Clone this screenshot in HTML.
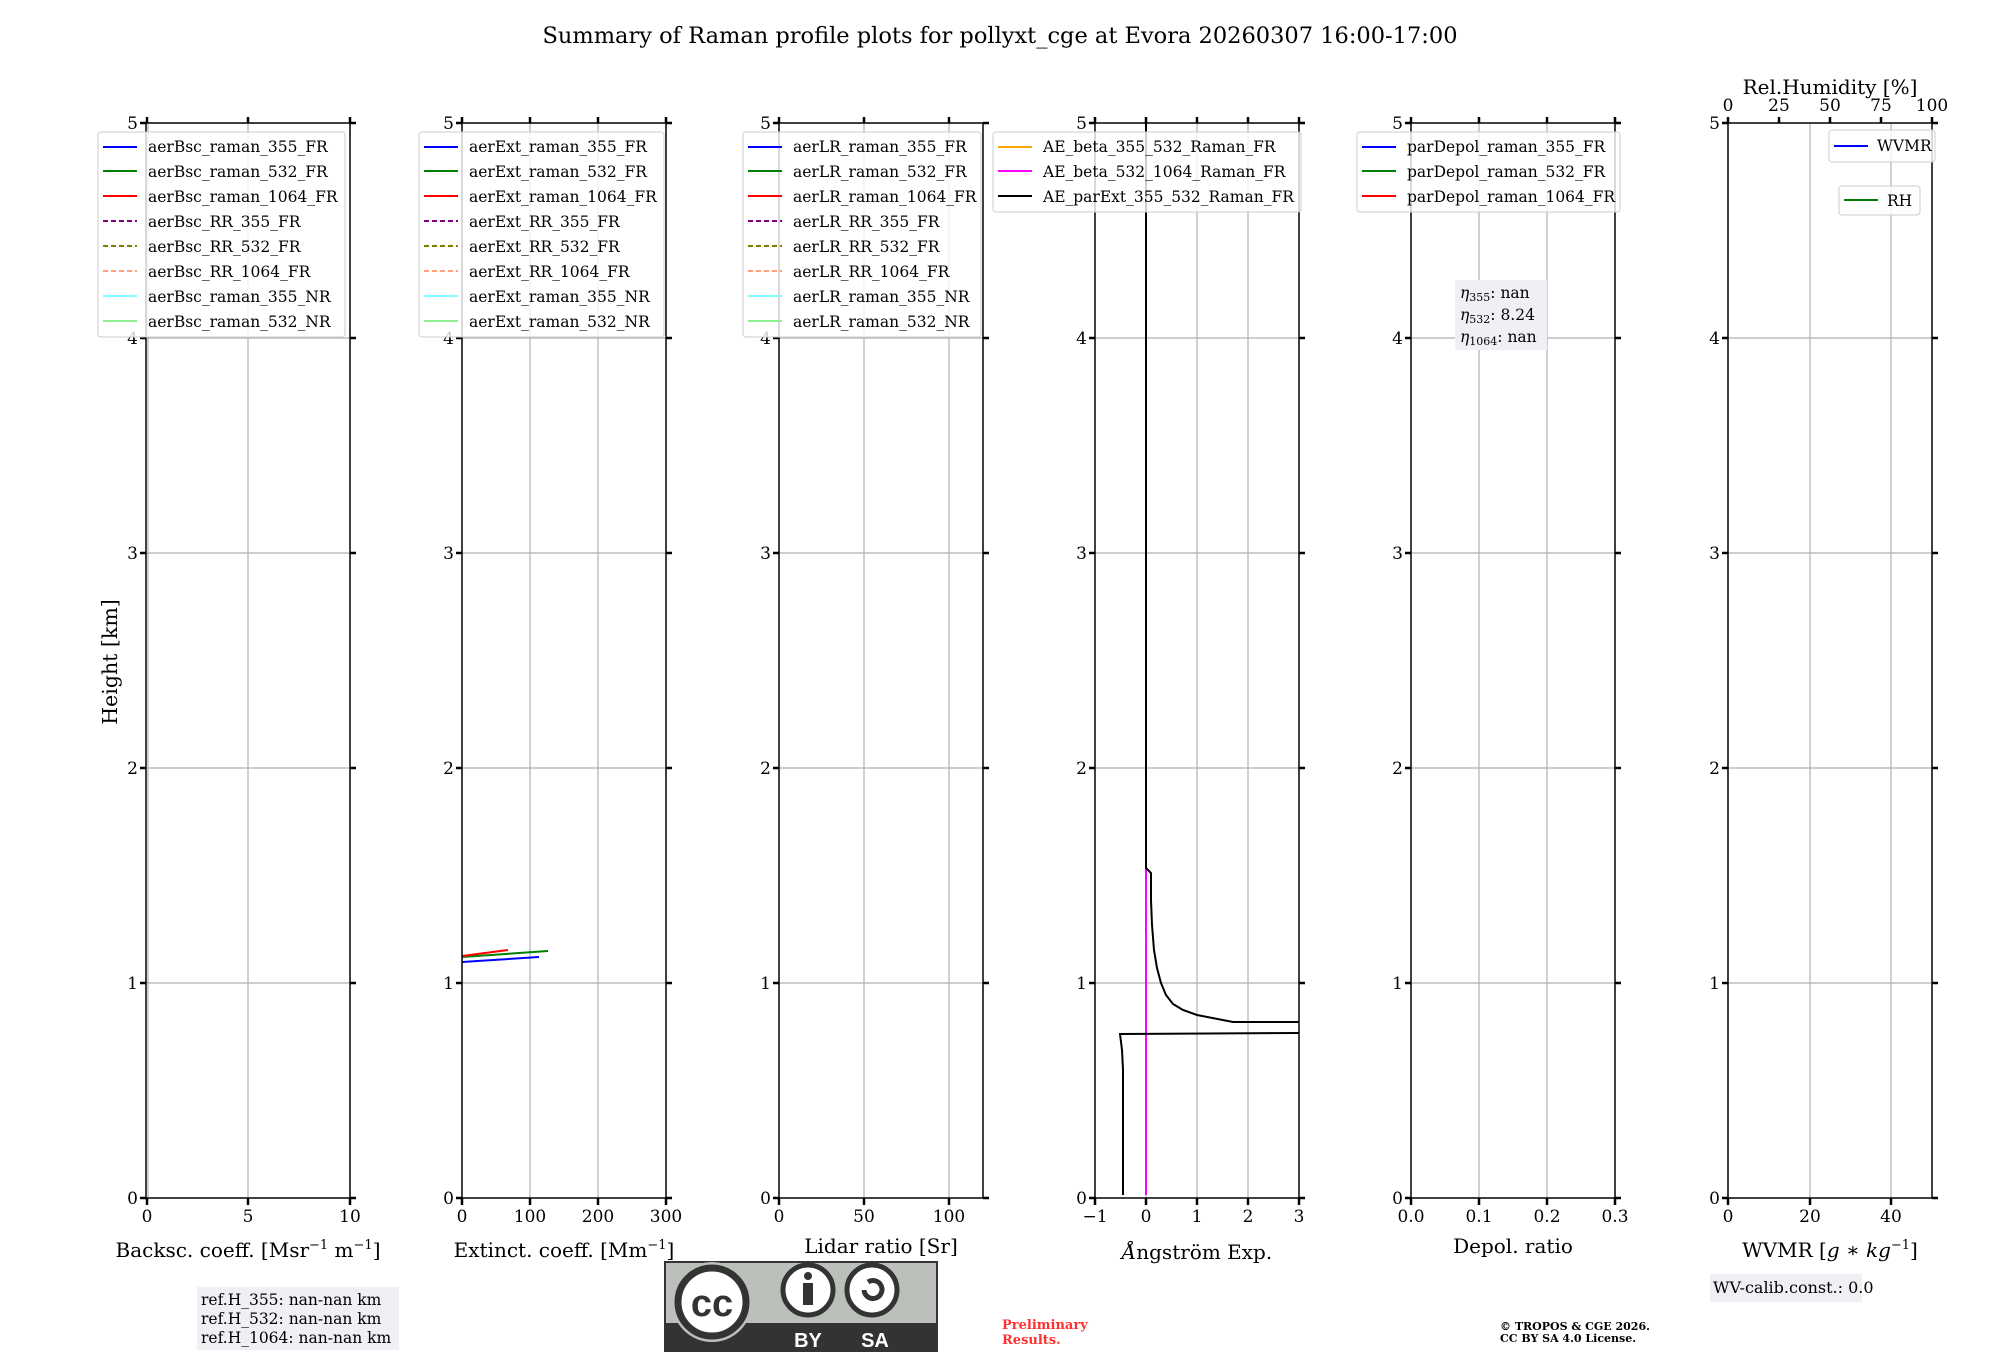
<!DOCTYPE html>
<html><head><meta charset="utf-8"><style>
html,body{margin:0;padding:0;background:#fff;}
svg{display:block;}
text{font-family:"DejaVu Serif","Liberation Serif",serif;fill:#000;}
.t{font-size:17px;}
.l{font-size:20px;}
.lg{font-size:15.5px;}
</style></head><body>
<svg width="2000" height="1360" viewBox="0 0 2000 1360" xmlns="http://www.w3.org/2000/svg">
<rect width="2000" height="1360" fill="#fff"/>
<text x="1000" y="43" font-size="22.5" text-anchor="middle">Summary of Raman profile plots for pollyxt_cge at Evora 20260307 16:00-17:00</text>
<text transform="translate(117,662) rotate(-90)" font-size="20.5" text-anchor="middle">Height [km]</text>

<g stroke="#b0b0b0" stroke-width="1.2">
<path d="M146 983H350M146 768H350M146 553H350M146 338H350"/>
<path d="M462 983H666M462 768H666M462 553H666M462 338H666"/>
<path d="M779 983H983M779 768H983M779 553H983M779 338H983"/>
<path d="M1095 983H1299M1095 768H1299M1095 553H1299M1095 338H1299"/>
<path d="M1411 983H1615M1411 768H1615M1411 553H1615M1411 338H1615"/>
<path d="M1728 983H1932M1728 768H1932M1728 553H1932M1728 338H1932"/>
<path d="M148 123V1198M248 123V1198"/>
<path d="M530 123V1198M598 123V1198"/>
<path d="M864 123V1198M949 123V1198"/>
<path d="M1146 123V1198M1197 123V1198M1248 123V1198"/>
<path d="M1479 123V1198M1547 123V1198"/>
<path d="M1810 123V1198M1891 123V1198"/>
</g>

<g stroke-width="2" fill="none">
<path d="M462 962L539 957" stroke="#0000ff"/>
<path d="M462 957L548 951" stroke="#008000"/>
<path d="M462 956L508 950" stroke="#ff0000"/>
</g>
<path d="M1146 1195V868" stroke="#ff00ff" stroke-width="2"/>
<g stroke="#000" stroke-width="2" fill="none">
<path d="M1123 1195L1123 1070L1122 1050L1120 1034L1299 1033"/>
<path d="M1146 123V868L1151 873L1151 900L1152 925L1154 950L1157 968L1161 983L1166 995L1173 1004L1183 1010L1197 1015L1233 1022L1299 1022"/>
</g>

<g fill="none" stroke="#000">
<g stroke-width="1.5">
<rect x="146" y="123" width="204" height="1075"/>
<rect x="462" y="123" width="204" height="1075"/>
<rect x="779" y="123" width="204" height="1075"/>
<rect x="1095" y="123" width="204" height="1075"/>
<rect x="1411" y="123" width="204" height="1075"/>
<rect x="1728" y="123" width="204" height="1075"/>
</g>
<g stroke-width="2.5">
<path d="M140 1198H146M140 983H146M140 768H146M140 553H146M140 338H146M140 123H146M350 1198H356M350 983H356M350 768H356M350 553H356M350 338H356M350 123H356"/>
<path d="M456 1198H462M456 983H462M456 768H462M456 553H462M456 338H462M456 123H462M666 1198H672M666 983H672M666 768H672M666 553H672M666 338H672M666 123H672"/>
<path d="M773 1198H779M773 983H779M773 768H779M773 553H779M773 338H779M773 123H779M983 1198H989M983 983H989M983 768H989M983 553H989M983 338H989M983 123H989"/>
<path d="M1089 1198H1095M1089 983H1095M1089 768H1095M1089 553H1095M1089 338H1095M1089 123H1095M1299 1198H1305M1299 983H1305M1299 768H1305M1299 553H1305M1299 338H1305M1299 123H1305"/>
<path d="M1405 1198H1411M1405 983H1411M1405 768H1411M1405 553H1411M1405 338H1411M1405 123H1411M1615 1198H1621M1615 983H1621M1615 768H1621M1615 553H1621M1615 338H1621M1615 123H1621"/>
<path d="M1722 1198H1728M1722 983H1728M1722 768H1728M1722 553H1728M1722 338H1728M1722 123H1728M1932 1198H1938M1932 983H1938M1932 768H1938M1932 553H1938M1932 338H1938M1932 123H1938"/>
<path d="M147 1198V1205M248 1198V1205M350 1198V1205M147 117V123M248 117V123M350 117V123"/>
<path d="M462 1198V1205M530 1198V1205M598 1198V1205M666 1198V1205M462 117V123M530 117V123M598 117V123M666 117V123"/>
<path d="M779 1198V1205M864 1198V1205M949 1198V1205M779 117V123M864 117V123M949 117V123"/>
<path d="M1095 1198V1205M1146 1198V1205M1197 1198V1205M1248 1198V1205M1299 1198V1205M1095 117V123M1146 117V123M1197 117V123M1248 117V123M1299 117V123"/>
<path d="M1411 1198V1205M1479 1198V1205M1547 1198V1205M1615 1198V1205M1411 117V123M1479 117V123M1547 117V123M1615 117V123"/>
<path d="M1728 1198V1205M1810 1198V1205M1891 1198V1205M1728 117V123M1779 117V123M1830 117V123M1881 117V123M1932 117V123"/>
</g>
</g>

<g class="t" text-anchor="end">
<text x="138" y="1204">0</text><text x="138" y="989">1</text><text x="138" y="774">2</text><text x="138" y="559">3</text><text x="138" y="344">4</text><text x="138" y="129">5</text>
<text x="454" y="1204">0</text><text x="454" y="989">1</text><text x="454" y="774">2</text><text x="454" y="559">3</text><text x="454" y="344">4</text><text x="454" y="129">5</text>
<text x="771" y="1204">0</text><text x="771" y="989">1</text><text x="771" y="774">2</text><text x="771" y="559">3</text><text x="771" y="344">4</text><text x="771" y="129">5</text>
<text x="1087" y="1204">0</text><text x="1087" y="989">1</text><text x="1087" y="774">2</text><text x="1087" y="559">3</text><text x="1087" y="344">4</text><text x="1087" y="129">5</text>
<text x="1403" y="1204">0</text><text x="1403" y="989">1</text><text x="1403" y="774">2</text><text x="1403" y="559">3</text><text x="1403" y="344">4</text><text x="1403" y="129">5</text>
<text x="1720" y="1204">0</text><text x="1720" y="989">1</text><text x="1720" y="774">2</text><text x="1720" y="559">3</text><text x="1720" y="344">4</text><text x="1720" y="129">5</text>
</g>
<g class="t" text-anchor="middle">
<text x="147" y="1222">0</text><text x="248" y="1222">5</text><text x="350" y="1222">10</text>
<text x="462" y="1222">0</text><text x="530" y="1222">100</text><text x="598" y="1222">200</text><text x="666" y="1222">300</text>
<text x="779" y="1222">0</text><text x="864" y="1222">50</text><text x="949" y="1222">100</text>
<text x="1095" y="1222">−1</text><text x="1146" y="1222">0</text><text x="1197" y="1222">1</text><text x="1248" y="1222">2</text><text x="1299" y="1222">3</text>
<text x="1411" y="1222">0.0</text><text x="1479" y="1222">0.1</text><text x="1547" y="1222">0.2</text><text x="1615" y="1222">0.3</text>
<text x="1728" y="1222">0</text><text x="1810" y="1222">20</text><text x="1891" y="1222">40</text>
<text x="1728" y="111">0</text><text x="1779" y="111">25</text><text x="1830" y="111">50</text><text x="1881" y="111">75</text><text x="1932" y="111">100</text>
</g>
<g class="l" text-anchor="middle">
<text x="248" y="1257">Backsc. coeff. [Msr<tspan dy="-8" font-size="13">−1</tspan><tspan dy="8"> m</tspan><tspan dy="-8" font-size="13">−1</tspan><tspan dy="8">]</tspan></text>
<text x="564" y="1257">Extinct. coeff. [Mm<tspan dy="-8" font-size="13">−1</tspan><tspan dy="8">]</tspan></text>
<text x="881" y="1253">Lidar ratio [Sr]</text>
<text x="1197" y="1259"><tspan font-style="italic">Å</tspan>ngström Exp.</text>
<text x="1513" y="1253">Depol. ratio</text>
<text x="1830" y="1257">WVMR [<tspan font-style="italic">g</tspan> ∗ <tspan font-style="italic">kg</tspan><tspan dy="-8" font-size="13">−1</tspan><tspan dy="8">]</tspan></text>
<text x="1830" y="94">Rel.Humidity [%]</text>
</g>

<g class="lg">
<g>
<rect x="98" y="132" width="247" height="205" rx="3" fill="#fff" fill-opacity="0.8" stroke="#ccc"/>
<g stroke-width="2" fill="none">
<path d="M103 147H137" stroke="#0000ff"/><path d="M103 171H137" stroke="#008000"/><path d="M103 196H137" stroke="#ff0000"/>
<path d="M103 221H137" stroke="#800080" stroke-dasharray="5 3"/><path d="M103 246H137" stroke="#808000" stroke-dasharray="5 3"/><path d="M103 271H137" stroke="#ffa07a" stroke-dasharray="5 3"/>
<path d="M103 296H137" stroke="#80ffff"/><path d="M103 321H137" stroke="#90ee90"/>
</g>
<text x="148" y="152">aerBsc_raman_355_FR</text><text x="148" y="177">aerBsc_raman_532_FR</text><text x="148" y="202">aerBsc_raman_1064_FR</text><text x="148" y="227">aerBsc_RR_355_FR</text><text x="148" y="252">aerBsc_RR_532_FR</text><text x="148" y="277">aerBsc_RR_1064_FR</text><text x="148" y="302">aerBsc_raman_355_NR</text><text x="148" y="327">aerBsc_raman_532_NR</text>
</g>
<g transform="translate(321,0)">
<rect x="98" y="132" width="245" height="205" rx="3" fill="#fff" fill-opacity="0.8" stroke="#ccc"/>
<g stroke-width="2" fill="none">
<path d="M103 147H137" stroke="#0000ff"/><path d="M103 171H137" stroke="#008000"/><path d="M103 196H137" stroke="#ff0000"/>
<path d="M103 221H137" stroke="#800080" stroke-dasharray="5 3"/><path d="M103 246H137" stroke="#808000" stroke-dasharray="5 3"/><path d="M103 271H137" stroke="#ffa07a" stroke-dasharray="5 3"/>
<path d="M103 296H137" stroke="#80ffff"/><path d="M103 321H137" stroke="#90ee90"/>
</g>
<text x="148" y="152">aerExt_raman_355_FR</text><text x="148" y="177">aerExt_raman_532_FR</text><text x="148" y="202">aerExt_raman_1064_FR</text><text x="148" y="227">aerExt_RR_355_FR</text><text x="148" y="252">aerExt_RR_532_FR</text><text x="148" y="277">aerExt_RR_1064_FR</text><text x="148" y="302">aerExt_raman_355_NR</text><text x="148" y="327">aerExt_raman_532_NR</text>
</g>
<g transform="translate(645,0)">
<rect x="98" y="132" width="238" height="205" rx="3" fill="#fff" fill-opacity="0.8" stroke="#ccc"/>
<g stroke-width="2" fill="none">
<path d="M103 147H137" stroke="#0000ff"/><path d="M103 171H137" stroke="#008000"/><path d="M103 196H137" stroke="#ff0000"/>
<path d="M103 221H137" stroke="#800080" stroke-dasharray="5 3"/><path d="M103 246H137" stroke="#808000" stroke-dasharray="5 3"/><path d="M103 271H137" stroke="#ffa07a" stroke-dasharray="5 3"/>
<path d="M103 296H137" stroke="#80ffff"/><path d="M103 321H137" stroke="#90ee90"/>
</g>
<text x="148" y="152">aerLR_raman_355_FR</text><text x="148" y="177">aerLR_raman_532_FR</text><text x="148" y="202">aerLR_raman_1064_FR</text><text x="148" y="227">aerLR_RR_355_FR</text><text x="148" y="252">aerLR_RR_532_FR</text><text x="148" y="277">aerLR_RR_1064_FR</text><text x="148" y="302">aerLR_raman_355_NR</text><text x="148" y="327">aerLR_raman_532_NR</text>
</g>
<g>
<rect x="993" y="132" width="308" height="80" rx="3" fill="#fff" fill-opacity="0.8" stroke="#ccc"/>
<g stroke-width="2"><path d="M998 147H1032" stroke="#ffa500"/><path d="M998 171H1032" stroke="#ff00ff"/><path d="M998 196H1032" stroke="#000"/></g>
<text x="1043" y="152">AE_beta_355_532_Raman_FR</text><text x="1043" y="177">AE_beta_532_1064_Raman_FR</text><text x="1043" y="202">AE_parExt_355_532_Raman_FR</text>
</g>
<g>
<rect x="1357" y="132" width="263" height="80" rx="3" fill="#fff" fill-opacity="0.8" stroke="#ccc"/>
<g stroke-width="2"><path d="M1362 147H1396" stroke="#0000ff"/><path d="M1362 171H1396" stroke="#008000"/><path d="M1362 196H1396" stroke="#ff0000"/></g>
<text x="1407" y="152">parDepol_raman_355_FR</text><text x="1407" y="177">parDepol_raman_532_FR</text><text x="1407" y="202">parDepol_raman_1064_FR</text>
</g>
<g>
<rect x="1829" y="130" width="106" height="32" rx="3" fill="#fff" fill-opacity="0.8" stroke="#ccc"/>
<path d="M1834 146H1868" stroke="#0000ff" stroke-width="2"/>
<text x="1877" y="151">WVMR</text>
<rect x="1839" y="186" width="81" height="29" rx="3" fill="#fff" fill-opacity="0.8" stroke="#ccc"/>
<path d="M1844 200H1878" stroke="#008000" stroke-width="2"/>
<text x="1887" y="206">RH</text>
</g>
</g>

<rect x="1455" y="280" width="92" height="70" fill="#eef0f4"/>
<g font-size="15.5">
<text x="1460" y="298"><tspan font-style="italic">η</tspan><tspan font-size="11" dy="3">355</tspan><tspan dy="-3">: nan</tspan></text>
<text x="1460" y="320"><tspan font-style="italic">η</tspan><tspan font-size="11" dy="3">532</tspan><tspan dy="-3">: 8.24</tspan></text>
<text x="1460" y="342"><tspan font-style="italic">η</tspan><tspan font-size="11" dy="3">1064</tspan><tspan dy="-3">: nan</tspan></text>
</g>

<rect x="197" y="1287" width="202" height="63" fill="#eef0f4"/>
<g font-size="15.5">
<text x="201" y="1305">ref.H_355: nan-nan km</text>
<text x="201" y="1324">ref.H_532: nan-nan km</text>
<text x="201" y="1343">ref.H_1064: nan-nan km</text>
</g>

<g>
<rect x="665" y="1262" width="272" height="89" fill="#bbc0bb" stroke="#333" stroke-width="2"/>
<rect x="665" y="1323" width="272" height="28" fill="#333"/>
<circle cx="712" cy="1302" r="40" fill="#bbc0bb"/>
<circle cx="712" cy="1302" r="34" fill="#fff" stroke="#333" stroke-width="7"/>
<text x="712" y="1316" text-anchor="middle" font-weight="bold" font-size="38" style="font-family:'Liberation Sans',sans-serif;fill:#333">cc</text>
<circle cx="808" cy="1290" r="25" fill="#fff" stroke="#333" stroke-width="5"/>
<circle cx="808" cy="1276" r="4" fill="#333"/>
<rect x="803" y="1283" width="10" height="22" fill="#333"/>
<circle cx="872" cy="1290" r="25" fill="#fff" stroke="#333" stroke-width="5"/>
<path d="M864 1290a9 9 0 1 0 4 -8" fill="none" stroke="#333" stroke-width="5"/>
<text x="808" y="1347" text-anchor="middle" font-weight="bold" font-size="20" style="font-family:'Liberation Sans',sans-serif;fill:#fff">BY</text>
<text x="875" y="1347" text-anchor="middle" font-weight="bold" font-size="20" style="font-family:'Liberation Sans',sans-serif;fill:#fff">SA</text>
</g>

<text x="1002" y="1329" font-size="13" font-weight="bold" style="fill:#ff3030">Preliminary</text>
<text x="1002" y="1344" font-size="13" font-weight="bold" style="fill:#ff3030">Results.</text>

<text x="1500" y="1330" font-size="11" font-weight="bold">© TROPOS &amp; CGE 2026.</text>
<text x="1500" y="1342" font-size="11" font-weight="bold">CC BY SA 4.0 License.</text>

<rect x="1710" y="1274" width="152" height="28" fill="#eef0f4"/>
<text x="1713" y="1293" font-size="16">WV-calib.const.: 0.0</text>
</svg>
</body></html>
